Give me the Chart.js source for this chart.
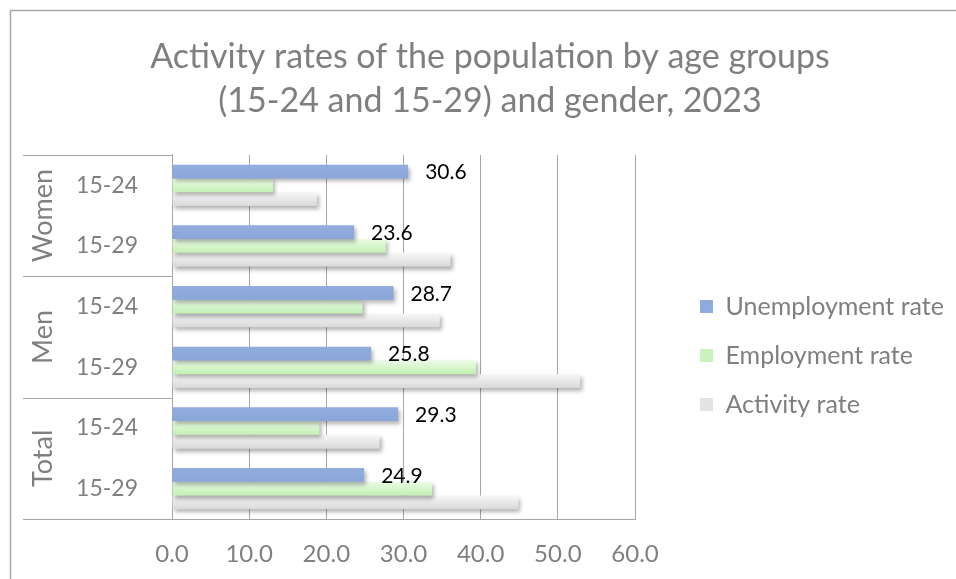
<!DOCTYPE html>
<html>
<head>
<meta charset="utf-8">
<script src="https://cdn.jsdelivr.net/npm/chart.js@4/dist/chart.umd.min.js"></script>
<style>
  html, body { margin: 0; padding: 0; background: #fff; }
</style>
</head>
<body>
<canvas id="chart" width="956" height="579"></canvas>
<script>
  // Data
  const ageLabels = ['15-24', '15-29', '15-24', '15-29', '15-24', '15-29'];
  const groupNames = ['Women', 'Men', 'Total'];
  const groupSizes = [2, 2, 2];
  const unemployment = [30.6, 23.6, 28.7, 25.8, 29.3, 24.9];
  const employment = [13.1, 27.7, 24.7, 39.4, 19.1, 33.7];
  const activity = [18.8, 36.1, 34.7, 52.9, 26.9, 44.9];

  const grey = '#7F7F7F';
  const lineGrey = '#A6A6A6';
  Chart.defaults.font.family = 'Lato, "Noto Sans", sans-serif';

  // gradients + soft shadow like the office chart
  const barStyle = {
    id: 'barStyle',
    beforeDatasetsDraw(chart) {
      const ctx = chart.ctx;
      chart.data.datasets.forEach((ds, i) => {
        if (!ds.gradient) return;
        chart.getDatasetMeta(i).data.forEach(bar => {
          const h = bar.height;
          const g = ctx.createLinearGradient(0, bar.y - h / 2, 0, bar.y + h / 2);
          g.addColorStop(0, ds.gradient[0]);
          g.addColorStop(1, ds.gradient[1]);
          bar.options.backgroundColor = g;
        });
      });
    },
    beforeDatasetDraw(chart) {
      const ctx = chart.ctx;
      ctx.save();
      ctx.shadowColor = 'rgba(0,0,0,0.3)';
      ctx.shadowBlur = 4;
      ctx.shadowOffsetX = 2;
      ctx.shadowOffsetY = 3;
    },
    afterDatasetDraw(chart) {
      chart.ctx.restore();
    }
  };

  // legend width fixed so the plot ends at the same place as in the picture
  const placeLegend = {
    id: 'placeLegend',
    beforeLayout(chart) {
      const lg = chart.legend;
      if (lg && !lg._patched) {
        const fit = lg.fit.bind(lg);
        lg.fit = function () { fit(); this.width = 321; };
        lg._patched = true;
      }
    },
    afterLayout(chart) {
      const lg = chart.legend;
      lg.left = 676; lg.right = 956;
      lg.top = 270; lg.bottom = 480;
      chart.titleBlock.left = 24;
    }
  };

  // value labels on the unemployment bars
  const valueLabels = {
    id: 'valueLabels',
    afterDatasetsDraw(chart) {
      const ctx = chart.ctx;
      ctx.save();
      ctx.fillStyle = '#000';
      ctx.font = '21px ' + Chart.defaults.font.family;
      ctx.textAlign = 'left';
      ctx.textBaseline = 'middle';
      chart.getDatasetMeta(0).data.forEach((bar, i) => {
        ctx.fillText(unemployment[i].toFixed(1), bar.x + 17, bar.y + 1);
      });
      ctx.restore();
    }
  };

  // second level of the category axis + outer frame
  const groupAxis = {
    id: 'groupAxis',
    afterDraw(chart) {
      const ctx = chart.ctx;
      const y = chart.scales.y;
      const area = chart.chartArea;
      ctx.save();
      ctx.strokeStyle = lineGrey;
      ctx.lineWidth = 1;
      let idx = 0;
      const bounds = [area.top];
      groupSizes.forEach(n => {
        idx += n;
        bounds.push(idx < ageLabels.length ? (y.getPixelForValue(idx - 1) + y.getPixelForValue(idx)) / 2 : area.bottom);
      });
      bounds.forEach(b => {
        ctx.beginPath();
        ctx.moveTo(23, Math.round(b) + 0.5);
        ctx.lineTo(area.left, Math.round(b) + 0.5);
        ctx.stroke();
      });
      ctx.fillStyle = grey;
      ctx.font = '27px ' + Chart.defaults.font.family;
      ctx.textAlign = 'center';
      ctx.textBaseline = 'middle';
      groupNames.forEach((name, i) => {
        ctx.save();
        ctx.translate(43, (bounds[i] + bounds[i + 1]) / 2);
        ctx.rotate(-Math.PI / 2);
        ctx.fillText(name, 0, 0);
        ctx.restore();
      });
      // frame
      ctx.strokeStyle = lineGrey;
      ctx.lineWidth = 1.5;
      ctx.beginPath();
      ctx.moveTo(10.5, 579);
      ctx.lineTo(10.5, 10.5);
      ctx.lineTo(956, 10.5);
      ctx.stroke();
      ctx.restore();
    }
  };

  new Chart(document.getElementById('chart'), {
    type: 'bar',
    data: {
      labels: ageLabels,
      datasets: [
        {
          label: 'Unemployment rate',
          data: unemployment,
          backgroundColor: () => '#8FAADC',
          gradient: ['#92ACDD', '#8AA6DA']
        },
        {
          label: 'Employment rate',
          data: employment,
          backgroundColor: () => '#C9F2BC',
          gradient: ['#ECFBE6', '#C2F0B3']
        },
        {
          label: 'Activity rate',
          data: activity,
          backgroundColor: () => '#E3E3E3',
          gradient: ['#F7F7F7', '#D9D9D9']
        }
      ]
    },
    options: {
      indexAxis: 'y',
      responsive: false,
      animation: false,
      layout: { padding: { left: 0, right: 0, top: 0, bottom: 0 } },
      datasets: {
        bar: { categoryPercentage: 0.68, barPercentage: 1.0, borderWidth: 0 }
      },
      scales: {
        x: {
          min: 0,
          max: 60,
          ticks: {
            stepSize: 10,
            callback: v => v.toFixed(1),
            font: { size: 24 },
            color: grey,
            padding: 21
          },
          grid: { color: lineGrey, drawTicks: false },
          border: { color: lineGrey },
          afterFit(scale) { scale.height = 60; }
        },
        y: {
          ticks: { font: { size: 23 }, color: grey, padding: 26 },
          grid: { display: false },
          border: { color: lineGrey },
          afterFit(scale) { scale.width = 172; }
        }
      },
      plugins: {
        title: {
          display: true,
          text: ['Activity rates of the population by age groups', '(15-24 and 15-29) and gender, 2023'],
          color: grey,
          font: { size: 34, weight: 'normal', lineHeight: 1.294 },
          padding: { top: 35, bottom: 32 }
        },
        legend: {
          position: 'right',
          align: 'start',
          labels: {
            boxWidth: 13,
            boxHeight: 13,
            padding: 24,
            color: grey,
            font: { size: 25 }
          }
        },
        tooltip: { enabled: false }
      }
    },
    plugins: [barStyle, placeLegend, valueLabels, groupAxis]
  });
</script>
</body>
</html>
